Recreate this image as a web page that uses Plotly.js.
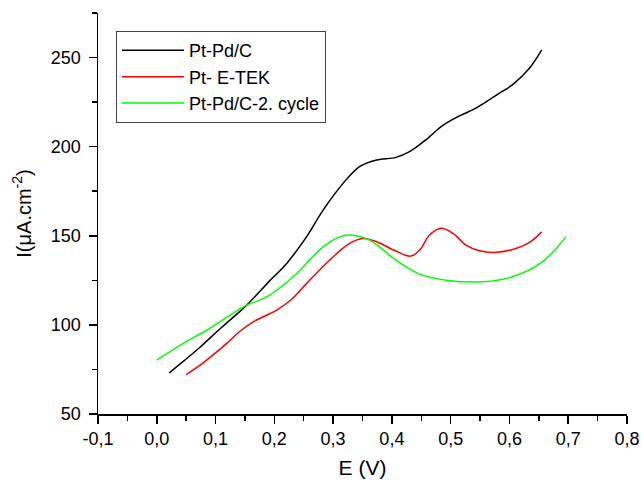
<!DOCTYPE html>
<html>
<head>
<meta charset="utf-8">
<script src="https://cdn.plot.ly/plotly-3.0.1.min.js"></script>
<style>html,body{margin:0;padding:0;background:#fff;}#chart{width:641px;height:480px;}</style>
</head>
<body>
<div id="chart"></div>
<script>
const seriesNames = ["Pt-Pd/C", "Pt- E-TEK", "Pt-Pd/C-2. cycle"];

const ptpdX = [0.021,0.045,0.074,0.11,0.153,0.19,0.221,0.255,0.283,0.317,0.345,0.374,0.407,0.430,0.461,0.486,0.512,0.543,0.583,0.605,0.634,0.655];
const ptpdY = [73.0,79.5,87.6,98.5,111.1,124,134.5,149.5,164.4,179.4,188.8,192.5,194.0,197.2,204.7,211.8,216.8,221.6,230.0,234.7,244.0,254.3];

const etekX = [0.050,0.08,0.119,0.14,0.164,0.204,0.23,0.255,0.294,0.328,0.351,0.375,0.403,0.432,0.448,0.464,0.484,0.504,0.526,0.549,0.577,0.611,0.635,0.655];
const etekY = [72.1,79,89.6,96,101.7,108.3,114.5,123.3,136.3,145.7,148.5,146.5,142.0,138.6,142.2,150.4,154.2,151.3,144.8,141.6,140.7,142.9,146.5,152.2];

const cycle2X = [0.0,0.045,0.085,0.12,0.153,0.187,0.232,0.283,0.311,0.328,0.362,0.407,0.447,0.492,0.554,0.605,0.656,0.696];
const cycle2Y = [80.2,89.6,97.0,104.5,111.1,115.7,127,143.8,149.4,150.4,147.6,136.3,128.5,125.1,124.2,127.0,135.4,149.4];

const xTickVals = [-0.1,0,0.1,0.2,0.3,0.4,0.5,0.6,0.7,0.8];
const xTickText = ["-0,1","0,0","0,1","0,2","0,3","0,4","0,5","0,6","0,7","0,8"];
const yTickVals = [50,100,150,200,250];
const yTickText = ["50","100","150","200","250"];

const font = "Liberation Sans, Arial, sans-serif";

const traces = [
  {x: ptpdX, y: ptpdY, name: seriesNames[0], mode: "lines", line: {color: "#000000", width: 1.5, shape: "spline", smoothing: 1}},
  {x: etekX, y: etekY, name: seriesNames[1], mode: "lines", line: {color: "#ff0000", width: 1.5, shape: "spline", smoothing: 1}},
  {x: cycle2X, y: cycle2Y, name: seriesNames[2], mode: "lines", line: {color: "#00ff00", width: 1.5, shape: "spline", smoothing: 1}}
];

const layout = {
  width: 641, height: 480,
  margin: {l: 98, r: 14, t: 13, b: 66},
  paper_bgcolor: "#ffffff", plot_bgcolor: "#ffffff",
  font: {family: font, size: 18, color: "#000"},
  showlegend: true,
  legend: {
    x: 0.034, y: 0.955, xanchor: "left", yanchor: "top",
    bordercolor: "#444", borderwidth: 1, bgcolor: "#ffffff",
    font: {family: font, size: 18, color: "#000"},
    itemwidth: 62, tracegroupgap: 0
  },
  xaxis: {
    range: [-0.1, 0.8], showgrid: false, zeroline: false,
    showline: true, linecolor: "#000", linewidth: 1.5,
    ticks: "outside", ticklen: 8, tickwidth: 1.5, tickcolor: "#000",
    tickvals: xTickVals, ticktext: xTickText,
    tickfont: {family: font, size: 18},
    minor: {dtick: 0.05, ticks: "outside", ticklen: 5, tickwidth: 1.5, tickcolor: "#000", showgrid: false},
    title: {text: "E (V)", font: {family: font, size: 21}, standoff: 12}
  },
  yaxis: {
    range: [50, 275], showgrid: false, zeroline: false,
    showline: true, linecolor: "#000", linewidth: 1.5,
    ticks: "outside", ticklen: 8, tickwidth: 1.5, tickcolor: "#000",
    ticklabelstandoff: 4,
    tickvals: yTickVals, ticktext: yTickText,
    tickfont: {family: font, size: 18},
    minor: {dtick: 25, ticks: "outside", ticklen: 5, tickwidth: 1.5, tickcolor: "#000", showgrid: false},
    title: {text: "I(μA.cm<sup>-2</sup>)", font: {family: font, size: 20}, standoff: 14}
  }
};

Plotly.newPlot("chart", traces, layout, {displayModeBar: false, staticPlot: true});
</script>
</body>
</html>
